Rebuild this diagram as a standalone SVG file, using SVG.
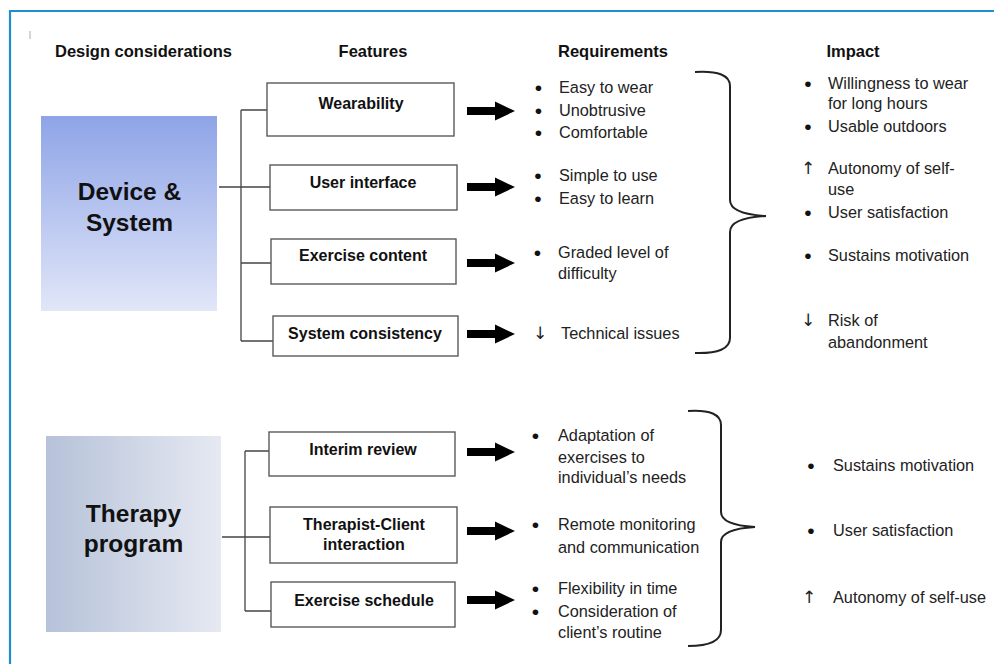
<svg xmlns="http://www.w3.org/2000/svg" width="994" height="664" viewBox="0 0 994 664">
  <style>
    text { font-family: "Liberation Sans", Arial, "DejaVu Sans", sans-serif; fill: #1a1a1a; }
    .hdr { font-size: 16.5px; font-weight: bold; text-anchor: middle; fill: #111; }
    .big { font-size: 24.5px; font-weight: bold; text-anchor: middle; fill: #111; }
    .feat { fill: #fff; stroke: #5a5a5a; stroke-width: 1.4; }
    .flab { font-size: 16px; font-weight: bold; text-anchor: middle; fill: #111; }
    .txt { font-size: 16.3px; fill: #222; }
    .bul { font-size: 21px; fill: #111; text-anchor: middle; }
    .dir { font-family: "DejaVu Sans", sans-serif; font-size: 17px; fill: #222; text-anchor: middle; }
    .line { fill: none; stroke: #444; stroke-width: 1.3; }
    .brace { fill: none; stroke: #222; stroke-width: 2; }
    .arr { fill: #000; }
  </style>
  <defs>
    <linearGradient id="gDevice" x1="0" y1="0" x2="0" y2="1">
      <stop offset="0" stop-color="#8ea4e7"/>
      <stop offset="1" stop-color="#e1e6f8"/>
    </linearGradient>
    <linearGradient id="gTherapy" x1="0" y1="0" x2="1" y2="0">
      <stop offset="0" stop-color="#b6c2d9"/>
      <stop offset="1" stop-color="#e6e9f2"/>
    </linearGradient>
    <polygon id="blockArrow" points="0,-4 28,-4 28,-9.5 48,0 28,9.5 28,4 0,4"/>
  </defs>

  <rect width="994" height="664" fill="#fff"/>
  <!-- frame -->
  <path d="M10,664 V11 H994" fill="none" stroke="#1e8fcb" stroke-width="2.2"/>
  <line x1="30" y1="31" x2="30" y2="39" stroke="#aaa" stroke-width="1"/>

  <!-- column headings -->
  <g id="headings">
    <text class="hdr" x="143.5" y="57">Design considerations</text>
    <text class="hdr" x="373" y="57">Features</text>
    <text class="hdr" x="613" y="57">Requirements</text>
    <text class="hdr" x="853" y="57">Impact</text>
  </g>

  <!-- connectors -->
  <g id="connectors">
    <path class="line" d="M219,187 H270 M241,110 V341 M241,110 H268 M241,263 H271 M241,341 H273"/>
    <path class="line" d="M222,537 H270 M245,451 V611 M245,451 H269 M245,611 H271"/>
    <use href="#blockArrow" class="arr" x="467" y="111"/>
    <use href="#blockArrow" class="arr" x="467" y="187"/>
    <use href="#blockArrow" class="arr" x="467" y="263"/>
    <use href="#blockArrow" class="arr" x="467" y="334"/>
    <use href="#blockArrow" class="arr" x="467" y="452"/>
    <use href="#blockArrow" class="arr" x="467" y="531"/>
    <use href="#blockArrow" class="arr" x="467" y="600"/>
    <path class="brace" d="M695,72 Q730,70 730,86 V200 Q730,214 766,216 Q730,218 730,232 V338 Q730,354 695,353"/>
    <path class="brace" d="M688,411 Q721,409 721,425 V512 Q721,525 755,527 Q721,529 721,542 V630 Q721,646 688,646"/>
  </g>

  <!-- design considerations -->
  <g id="device-system">
    <rect x="41" y="116" width="176" height="195" fill="url(#gDevice)"/>
    <text class="big" x="129.5" y="200">Device &amp;</text>
    <text class="big" x="129.5" y="231">System</text>
  </g>
  <g id="therapy-program">
    <rect x="46" y="436" width="175" height="196" fill="url(#gTherapy)"/>
    <text class="big" x="133.5" y="522">Therapy</text>
    <text class="big" x="133.5" y="552">program</text>
  </g>

  <!-- features -->
  <g id="wearability">
    <rect class="feat" x="267" y="83" width="187" height="53"/>
    <text class="flab" x="361" y="109">Wearability</text>
  </g>
  <g id="user-interface">
    <rect class="feat" x="270" y="165" width="187" height="45"/>
    <text class="flab" x="363" y="188">User interface</text>
  </g>
  <g id="exercise-content">
    <rect class="feat" x="271" y="239" width="185" height="45"/>
    <text class="flab" x="363" y="261">Exercise content</text>
  </g>
  <g id="system-consistency">
    <rect class="feat" x="273" y="316" width="185" height="40"/>
    <text class="flab" x="365" y="339">System consistency</text>
  </g>
  <g id="interim-review">
    <rect class="feat" x="269" y="432" width="186" height="44"/>
    <text class="flab" x="363" y="455">Interim review</text>
  </g>
  <g id="therapist-client">
    <rect class="feat" x="270" y="507" width="187" height="56"/>
    <text class="flab" x="364" y="530">Therapist-Client</text>
    <text class="flab" x="364" y="550">interaction</text>
  </g>
  <g id="exercise-schedule">
    <rect class="feat" x="271" y="582" width="184" height="45"/>
    <text class="flab" x="364" y="606">Exercise schedule</text>
  </g>

  <!-- requirements -->
  <g id="req-device">
    <text class="bul" x="538.5" y="94.5">•</text><text class="txt" x="559" y="93">Easy to wear</text>
    <text class="bul" x="538.5" y="117.5">•</text><text class="txt" x="559" y="116">Unobtrusive</text>
    <text class="bul" x="538.5" y="139.5">•</text><text class="txt" x="559" y="138">Comfortable</text>
    <text class="bul" x="538" y="182.5">•</text><text class="txt" x="559" y="181">Simple to use</text>
    <text class="bul" x="538" y="205.5">•</text><text class="txt" x="559" y="204">Easy to learn</text>
    <text class="bul" x="537.5" y="259.5">•</text><text class="txt" x="558" y="258">Graded level of</text>
    <text class="txt" x="558" y="279">difficulty</text>
    <text class="dir" x="540" y="339">↓</text><text class="txt" x="561" y="339">Technical issues</text>
  </g>
  <g id="req-therapy">
    <text class="bul" x="535.5" y="442.5">•</text><text class="txt" x="558" y="441">Adaptation of</text>
    <text class="txt" x="558" y="463">exercises to</text>
    <text class="txt" x="558" y="483">individual’s needs</text>
    <text class="bul" x="535.5" y="531.5">•</text><text class="txt" x="558" y="530">Remote monitoring</text>
    <text class="txt" x="558" y="553">and communication</text>
    <text class="bul" x="535.5" y="595.5">•</text><text class="txt" x="558" y="594">Flexibility in time</text>
    <text class="bul" x="535.5" y="618.5">•</text><text class="txt" x="558" y="617">Consideration of</text>
    <text class="txt" x="558" y="638">client’s routine</text>
  </g>

  <!-- impact -->
  <g id="impact-device">
    <text class="bul" x="808" y="90.5">•</text><text class="txt" x="828" y="89">Willingness to wear</text>
    <text class="txt" x="828" y="109">for long hours</text>
    <text class="bul" x="808" y="133.5">•</text><text class="txt" x="828" y="132">Usable outdoors</text>
    <text class="dir" x="808" y="174">↑</text><text class="txt" x="828" y="174">Autonomy of self-</text>
    <text class="txt" x="828" y="195">use</text>
    <text class="bul" x="808" y="219.5">•</text><text class="txt" x="828" y="218">User satisfaction</text>
    <text class="bul" x="808" y="262.5">•</text><text class="txt" x="828" y="261">Sustains motivation</text>
    <text class="dir" x="808" y="326">↓</text><text class="txt" x="828" y="326">Risk of</text>
    <text class="txt" x="828" y="348">abandonment</text>
  </g>
  <g id="impact-therapy">
    <text class="bul" x="811" y="472.5">•</text><text class="txt" x="833" y="471">Sustains motivation</text>
    <text class="bul" x="811" y="537.5">•</text><text class="txt" x="833" y="536">User satisfaction</text>
    <text class="dir" x="809" y="603">↑</text><text class="txt" x="833" y="603">Autonomy of self-use</text>
  </g>
</svg>
